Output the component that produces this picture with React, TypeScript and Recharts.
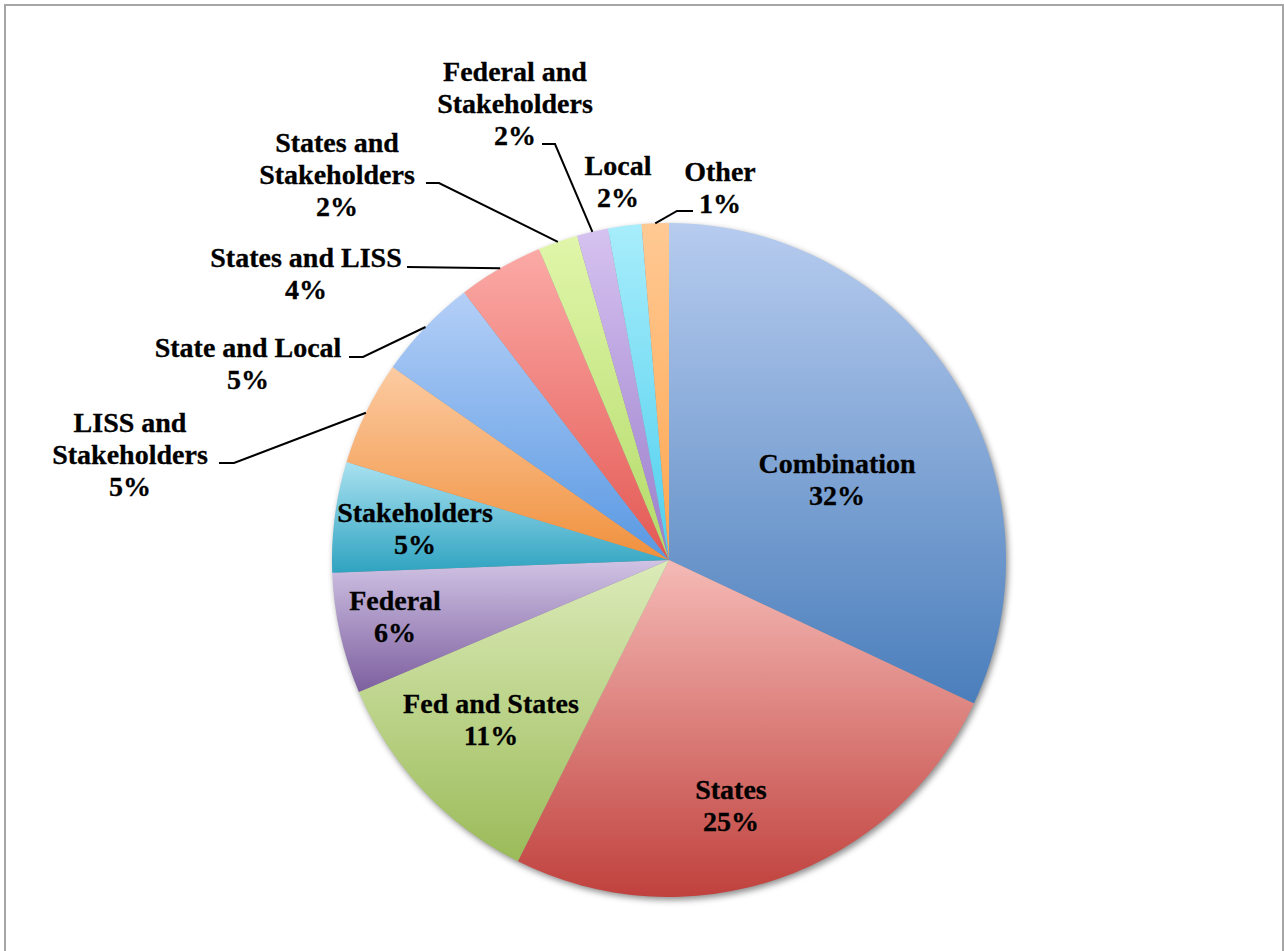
import React from 'react';
import { PieChart, Pie, Cell } from 'recharts';

// slice shares, clockwise from 12 o'clock
const categories = [
  'Combination',
  'States',
  'Fed and States',
  'Federal',
  'Stakeholders',
  'LISS and Stakeholders',
  'State and Local',
  'States and LISS',
  'States and Stakeholders',
  'Federal and Stakeholders',
  'Local',
  'Other',
];
const shares = [32.0, 25.4, 11.2, 5.8, 5.3, 5.0, 4.9, 4.1, 1.9, 1.5, 1.6, 1.3];
const shownPct = ['32%', '25%', '11%', '6%', '5%', '5%', '5%', '4%', '2%', '2%', '2%', '1%'];

// light top -> saturated bottom, one pair per slice
const gradTop = ['#b7ccef', '#f5bab6', '#dcebb9', '#d0c3e4', '#a9e1f0', '#fccba2', '#b4cff7', '#fbaaa6', '#e0f6aa', '#d6c2f0', '#a8edfb', '#ffc994'];
const gradBottom = ['#4a7ebb', '#c0413d', '#9bbb59', '#7d5f9f', '#2fa3c1', '#f0903c', '#5898e2', '#e35853', '#b3da68', '#9a7ecb', '#4ecfee', '#ffa64e'];

const data = categories.map((name, i) => ({ name, value: shares[i], pct: shownPct[i] }));

const CX = 669;
const CY = 560;
const R = 337;
const LINE_H = 32;
const FONT = '"Liberation Serif", "Times New Roman", serif';

// where Excel put each label; split = words on first line, elbow = short horizontal leader piece
type Place = { x: number; y: number; split?: number; elbow?: [number, number, number, number] };
const labelPlace: Place[] = [
  { x: 837, y: 463 },
  { x: 731, y: 789 },
  { x: 491, y: 703 },
  { x: 395, y: 600 },
  { x: 415, y: 512 },
  { x: 130, y: 422, split: 2, elbow: [219, 463, 234, 463] },
  { x: 248, y: 347, elbow: [349, 357, 363, 357] },
  { x: 306, y: 257, elbow: [407, 267, 407, 267] },
  { x: 337, y: 142, split: 2, elbow: [426, 183, 439, 183] },
  { x: 515, y: 71, split: 2, elbow: [542, 144, 555, 144] },
  { x: 618, y: 165 },
  { x: 720, y: 171, elbow: [693, 211, 677, 211] },
];

const RADIAN = Math.PI / 180;

function renderLabel(props: any) {
  const { cx, cy, midAngle, outerRadius, index } = props;
  const place = labelPlace[index];
  const name: string = categories[index];
  const words = name.split(' ');
  const lines = place.split
    ? [words.slice(0, place.split).join(' '), words.slice(place.split).join(' ')]
    : [name];
  lines.push(shownPct[index]);

  let leader = null;
  if (place.elbow) {
    const [x1, y1, x2, y2] = place.elbow;
    const ex = cx + outerRadius * Math.cos(-midAngle * RADIAN);
    const ey = cy + outerRadius * Math.sin(-midAngle * RADIAN);
    leader = (
      <polyline
        points={`${x1},${y1} ${x2},${y2} ${ex},${ey}`}
        fill="none"
        stroke="#000"
        strokeWidth={2}
      />
    );
  }

  return (
    <g key={`lbl-${index}`}>
      {leader}
      <text
        x={place.x}
        y={place.y}
        textAnchor="middle"
        dominantBaseline="central"
        fontFamily={FONT}
        fontWeight="bold"
        fontSize={28}
        fill="#000"
        stroke="#000"
        strokeWidth={0.3}
      >
        {lines.map((ln, i) => (
          <tspan key={i} x={place.x} dy={i === 0 ? 0 : LINE_H}>
            {ln}
          </tspan>
        ))}
      </text>
    </g>
  );
}

export default function App() {
  return (
    <div style={{ position: 'absolute', left: 0, top: 0, width: 1284, height: 951, background: '#fff', overflow: 'hidden' }}>
      <div
        style={{
          position: 'absolute',
          left: 4,
          top: 4,
          width: 1280,
          height: 947,
          borderTop: '2px solid #a6a6a6',
          borderLeft: '2px solid #a6a6a6',
          borderRight: '2px solid #a6a6a6',
          boxSizing: 'border-box',
        }}
      />
      <div style={{ position: 'absolute', left: 0, top: 0 }}>
        <PieChart width={1284} height={951} margin={{ top: 0, right: 0, bottom: 0, left: 0 }}>
          <defs>
            {gradTop.map((c, i) => (
              <linearGradient key={i} id={`slice-${i}`} x1="0" y1="0" x2="0" y2="1">
                <stop offset="0%" stopColor={c} />
                <stop offset="100%" stopColor={gradBottom[i]} />
              </linearGradient>
            ))}
            <filter id="pieShadow" x="-10%" y="-10%" width="120%" height="120%">
              <feGaussianBlur stdDeviation="3" />
            </filter>
          </defs>
          <Pie
            data={[{ name: 'shadow', value: 1 }]}
            dataKey="value"
            cx={CX + 2}
            cy={CY + 3}
            outerRadius={R}
            startAngle={90}
            endAngle={-270}
            stroke="none"
            isAnimationActive={false}
            legendType="none"
          >
            <Cell fill="rgba(0,0,0,0.45)" filter="url(#pieShadow)" />
          </Pie>
          <Pie
            data={data}
            dataKey="value"
            nameKey="name"
            cx={CX}
            cy={CY}
            outerRadius={R}
            startAngle={90}
            endAngle={-270}
            stroke="none"
            label={renderLabel}
            labelLine={false}
            isAnimationActive={false}
          >
            {data.map((d, i) => (
              <Cell key={d.name} fill={`url(#slice-${i})`} />
            ))}
          </Pie>
        </PieChart>
      </div>
    </div>
  );
}
